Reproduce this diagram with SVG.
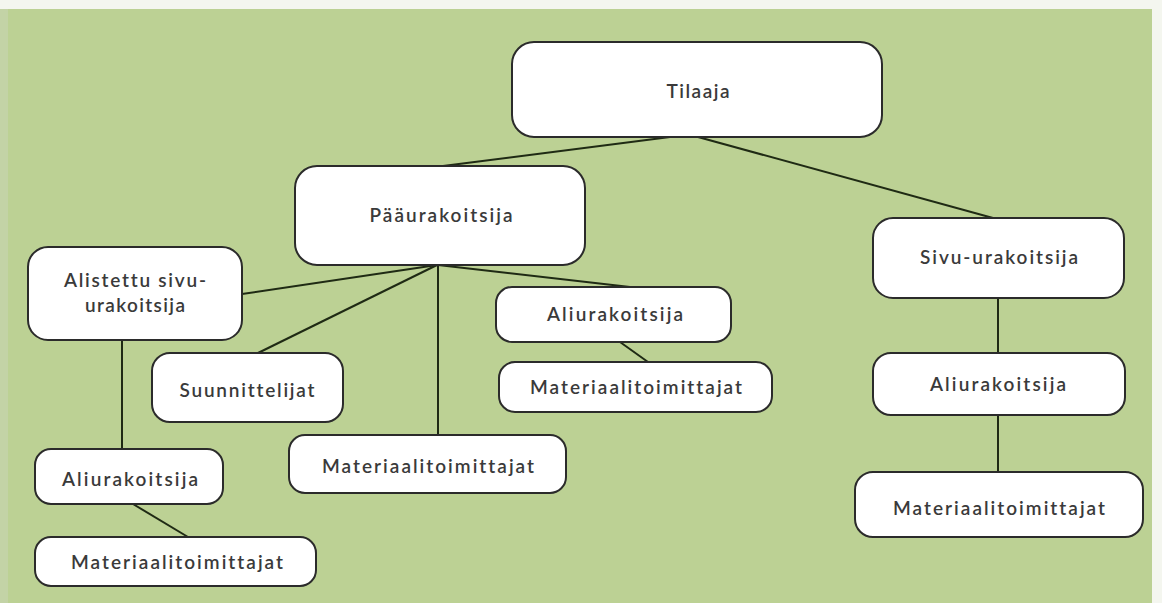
<svg xmlns="http://www.w3.org/2000/svg" width="1162" height="603" viewBox="0 0 1162 603">
<style>
.box{fill:#fff;stroke:#2b2b2b;stroke-width:2}
.lbl{font-family:Lato,"Open Sans","Liberation Sans",sans-serif;font-size:19px;font-weight:600;fill:#3a3a3a;text-anchor:middle;font-variant-ligatures:none;font-feature-settings:"liga" 0}
.con line{stroke:#1f2a14;stroke-width:2}
</style>
<rect x="0" y="0" width="1162" height="603" fill="#f4f6ef"/>
<rect x="0" y="9" width="8" height="594" fill="#c3d3a6"/>
<rect x="8" y="9" width="1144" height="594" fill="#bcd194"/>
<g id="connectors" class="con">
<line x1="443" y1="166" x2="670" y2="137"/>
<line x1="698" y1="137" x2="993" y2="218"/>
<line x1="437" y1="265" x2="242" y2="294"/>
<line x1="437" y1="265" x2="258" y2="353"/>
<line x1="438" y1="265" x2="438" y2="435"/>
<line x1="438" y1="265" x2="630" y2="287"/>
<line x1="122" y1="340" x2="122" y2="449"/>
<line x1="133" y1="504" x2="188" y2="537"/>
<line x1="620" y1="342" x2="648" y2="362"/>
<line x1="998" y1="298" x2="998" y2="353"/>
<line x1="998" y1="415" x2="998" y2="472"/>
</g>
<g id="tilaaja"><rect class="box" x="512" y="42" width="370" height="95" rx="22"/><text class="lbl" x="698" y="98" textLength="63">Tilaaja</text></g>
<g id="paaurakoitsija"><rect class="box" x="295" y="166" width="290" height="99" rx="22"/><text class="lbl" x="441" y="222" textLength="143">Pääurakoitsija</text></g>
<g id="sivu-urakoitsija"><rect class="box" x="873" y="218" width="251" height="80" rx="20"/><text class="lbl" x="999" y="264" textLength="158">Sivu-urakoitsija</text></g>
<g id="alistettu"><rect class="box" x="28" y="247" width="214" height="93" rx="20"/><text class="lbl" x="135" y="287" textLength="142">Alistettu sivu-</text><text class="lbl" x="135" y="312" textLength="100">urakoitsija</text></g>
<g id="suunnittelijat"><rect class="box" x="152" y="353" width="191" height="69" rx="18"/><text class="lbl" x="247" y="397" textLength="135">Suunnittelijat</text></g>
<g id="aliurakoitsija-1"><rect class="box" x="35" y="449" width="188" height="55" rx="16"/><text class="lbl" x="130" y="486" textLength="136">Aliurakoitsija</text></g>
<g id="materiaali-1"><rect class="box" x="35" y="537" width="281" height="49" rx="16"/><text class="lbl" x="177" y="569" textLength="212">Materiaalitoimittajat</text></g>
<g id="materiaali-2"><rect class="box" x="289" y="435" width="277" height="58" rx="16"/><text class="lbl" x="428" y="473" textLength="212">Materiaalitoimittajat</text></g>
<g id="aliurakoitsija-2"><rect class="box" x="496" y="287" width="235" height="55" rx="16"/><text class="lbl" x="615" y="321" textLength="136">Aliurakoitsija</text></g>
<g id="materiaali-3"><rect class="box" x="499" y="362" width="273" height="50" rx="16"/><text class="lbl" x="636" y="394" textLength="212">Materiaalitoimittajat</text></g>
<g id="aliurakoitsija-3"><rect class="box" x="873" y="353" width="252" height="62" rx="18"/><text class="lbl" x="998" y="391" textLength="136">Aliurakoitsija</text></g>
<g id="materiaali-4"><rect class="box" x="855" y="472" width="288" height="65" rx="18"/><text class="lbl" x="999" y="515" textLength="212">Materiaalitoimittajat</text></g>
</svg>
